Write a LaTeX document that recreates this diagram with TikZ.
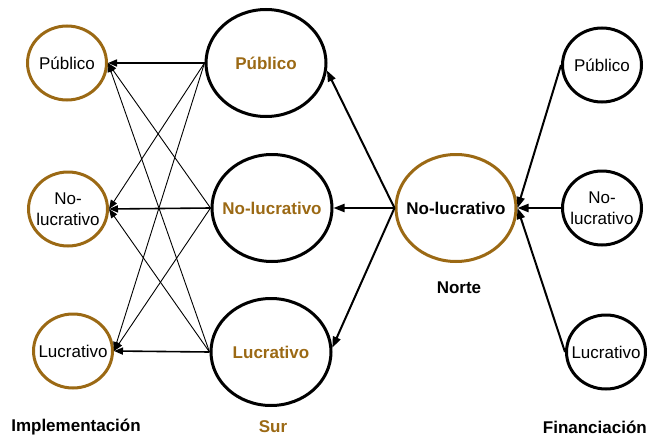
\documentclass[tikz,border=0pt]{standalone}
\usepackage{fontspec}
\setmainfont{Liberation Sans}
\usepackage{tikz}
\usetikzlibrary{arrows.meta,shapes.geometric}
\definecolor{oro}{RGB}{155,105,20}

\begin{document}
\begin{tikzpicture}[x=1pt,y=-1pt,
    chico/.style={ellipse, draw, line width=3pt, minimum width=79pt, minimum height=74pt,
        inner xsep=-15pt, inner ysep=0pt, align=center, font=\fontsize{17}{21}\selectfont},
    grande/.style={ellipse, draw, line width=3pt, minimum width=120pt, minimum height=107pt,
        inner xsep=-15pt, inner ysep=0pt, font=\bfseries\fontsize{17}{21}\selectfont},
    titulo/.style={font=\bfseries\fontsize{17}{21}\selectfont},
    flecha/.style={-{Triangle[length=9pt,width=7pt]}},
    flechag/.style={-{Triangle[length=11pt,width=8pt]}, line width=2pt}]
    \useasboundingbox (0,0) rectangle (648,439);
    \node[chico, draw=oro] (impPub) at (67,63) {Público};
    \node[chico, draw=oro] (impNo) at (68,209) {No-\\lucrativo};
    \node[chico, draw=oro] (impLuc) at (73,351) {Lucrativo};
    \node[grande, text=oro] (surPub) at (266,63) {Público};
    \node[grande, text=oro] (surNo) at (272,208) {No-lucrativo};
    \node[grande, text=oro] (surLuc) at (271,352) {Lucrativo};
    \node[grande, draw=oro] (norte) at (456,208) {No-lucrativo};
    \node[chico] (finPub) at (602,65) {Público};
    \node[chico] (finNo) at (602,208) {No-\\lucrativo};
    \node[chico] (finLuc) at (606,352) {Lucrativo};
    \node[titulo] (tImp) at (76,427) {Implementación};
    \node[titulo, text=oro] (tSur) at (273,427) {Sur};
    \node[titulo] (tNorte) at (459,288) {Norte};
    \node[titulo, anchor=east, inner xsep=1pt] (tFin) at (648,427) {Financiación};
    \foreach \s/\i in {surPub/impNo, surPub/impLuc, surNo/impPub, surNo/impLuc, surLuc/impPub, surLuc/impNo}
        \draw[flecha, line width=0.9pt] (\s.west) -- (\i.east);
    \foreach \n in {Pub,No,Luc}
        \draw[flecha, line width=1.6pt] (sur\n.west) -- (imp\n.east);
    \draw[flechag] (norte.west) -- (surPub.-7);
    \draw[flechag] (norte.west) -- (surNo.east);
    \draw[flechag] (norte.west) -- (surLuc.4);
    \foreach \n in {Pub,No,Luc}
        \draw[flechag] (fin\n.west) -- (norte.east);
\end{tikzpicture}
\end{document}
